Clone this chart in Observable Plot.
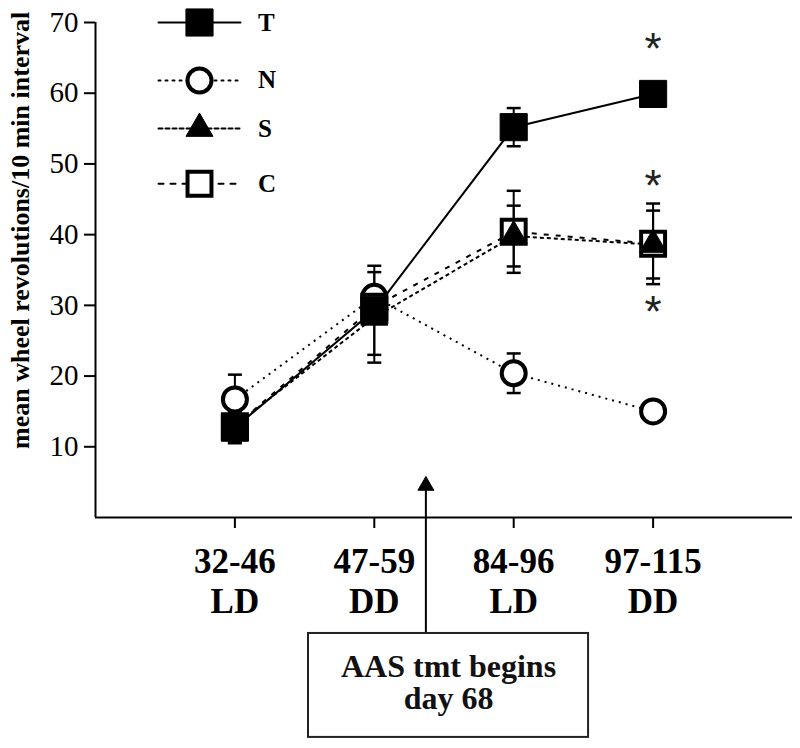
<!DOCTYPE html>
<html>
<head>
<meta charset="utf-8">
<script src="https://cdn.jsdelivr.net/npm/d3@7"></script>
<script src="https://cdn.jsdelivr.net/npm/@observablehq/plot@0.6"></script>
<style>
  html, body { margin: 0; padding: 0; background: #fff; }
  #chart svg { display: block; }
</style>
</head>
<body>
<div id="chart"></div>
<script>
// ---- data ----
const periodLabels = ["32-46\nLD", "47-59\nDD", "84-96\nLD", "97-115\nDD"];
const periodPos = [1, 2, 3, 4];
const seriesNames = ["T", "N", "S", "C"];
const T_mean = [12.7, 29.3, 55.2, 59.9];
const T_err  = [2.2, 6.3, 2.7, 0.8];
const N_mean = [16.7, 31.2, 20.4, 15.0];
const N_err  = [3.5, 1.5, 2.8, 0.8];
const S_mean = [13.0, 28.3, 39.8, 38.6];
const S_err  = [2.0, 6.4, 4.3, 4.8];
const C_mean = [12.9, 29.8, 40.4, 38.7];
const C_err  = [2.2, 1.5, 5.8, 5.7];
const yTicks = [10, 20, 30, 40, 50, 60, 70];
const asteriskY = [67.2, 47.9, 30.1];   // significance marks at 97-115
const yTitle = "mean wheel revolutions/10 min interval";
const noteLines = ["AAS tmt begins", "day 68"];
const notePos = 2.37; // position of treatment start between periods

// ---- build tables ----
const means = {T: T_mean, N: N_mean, S: S_mean, C: C_mean};
const errs = {T: T_err, N: N_err, S: S_err, C: C_err};
function rows(name) {
  return periodPos.map((x, i) => ({series: name, x, y: means[name][i],
    lo: means[name][i] - errs[name][i], hi: means[name][i] + errs[name][i]}));
}
const data = Object.fromEntries(seriesNames.map(n => [n, rows(n)]));

const serif = "'Liberation Serif', 'Times New Roman', serif";
const styles = {
  T: {dash: null},
  N: {dash: "2,5"},
  S: {dash: "4,3"},
  C: {dash: "5,7"}
};
const cap = {draw(ctx) { ctx.moveTo(-7, 0); ctx.lineTo(7, 0); }};

function markerMarks(d, name) {
  if (name === "T") return Plot.dot(d, {x: "x", y: "y", symbol: "square", r: 15.3, fill: "black", stroke: "black", strokeWidth: 1});
  if (name === "N") return Plot.dot(d, {x: "x", y: "y", symbol: "circle", r: 12, fill: "white", stroke: "black", strokeWidth: 4});
  if (name === "S") return Plot.dot(d, {x: "x", y: "y", symbol: "triangle", r: 10, fill: "black", stroke: "black", strokeWidth: 1});
  return Plot.dot(d, {x: "x", y: "y", symbol: "square", r: 13.5, fill: "white", stroke: "black", strokeWidth: 4});
}

// legend layout (in chart coordinates)
const legX = [0.452, 1.04], legMarkX = 0.746, legTextX = 1.165;
const legY = {T: 70, N: 61.8, S: 55.0, C: 47.2};
const legend = seriesNames.map(n => ({series: n, y: legY[n]}));

const marks = [];
// axes lines
marks.push(Plot.ruleY([0], {x1: 0, x2: 5, stroke: "black", strokeWidth: 2}));
marks.push(Plot.ruleX([0], {y1: 0, y2: 70, stroke: "black", strokeWidth: 2}));
marks.push(Plot.axisY({ticks: yTicks, tickSize: 11, tickPadding: 6, strokeWidth: 2,
  fontSize: 29, fontFamily: serif, style: "letter-spacing:-1.8px", fill: "black", label: null}));
marks.push(Plot.axisX({ticks: periodPos, tickFormat: (d) => periodLabels[periodPos.indexOf(d)],
  tickSize: 11, tickPadding: 16, strokeWidth: 2, fontSize: 35, fontWeight: "bold", fontFamily: serif,
  lineHeight: 1.15, style: "letter-spacing:-1.8px", fill: "black", label: null}));
// y title
marks.push(Plot.text([yTitle], {x: () => -0.54, y: () => 40.6, text: d => d, rotate: -90,
  fontSize: 26, fontWeight: "bold", fontFamily: serif, fill: "black", style: "letter-spacing:-1px"}));

// lines
const drawOrder = ["N", "C", "S", "T"];
for (const n of drawOrder) {
  marks.push(Plot.line(data[n], {x: "x", y: "y", stroke: "black", strokeWidth: 2,
    strokeDasharray: styles[n].dash, strokeLinecap: "butt"}));
}
// error bars
for (const n of drawOrder) {
  marks.push(Plot.ruleX(data[n], {x: "x", y1: "lo", y2: "hi", stroke: "black", strokeWidth: 2}));
  marks.push(Plot.dot(data[n], {x: "x", y: "lo", symbol: cap, stroke: "black", strokeWidth: 2.5}));
  marks.push(Plot.dot(data[n], {x: "x", y: "hi", symbol: cap, stroke: "black", strokeWidth: 2.5}));
}
// markers
for (const n of drawOrder) marks.push(markerMarks(data[n], n));

// asterisks
marks.push(Plot.text(asteriskY, {x: () => 4, y: d => d, text: () => "*", fontSize: 44,
  fontFamily: "'Liberation Sans', Arial, sans-serif", fill: "#222", dy: 8}));

// legend
for (const n of seriesNames) {
  const ly = legY[n];
  marks.push(Plot.line(legX.map(x => ({x, y: ly})), {x: "x", y: "y", stroke: "black", strokeWidth: 2,
    strokeDasharray: styles[n].dash}));
  marks.push(markerMarks([{x: legMarkX, y: ly}], n));
}
marks.push(Plot.text(legend, {x: () => legTextX, y: "y", text: "series", textAnchor: "start",
  fontSize: 25, fontWeight: "bold", fontFamily: serif, fill: "black"}));

// annotation box and arrow
const boxX = [1.528, 3.537], boxY = [-16.4, -31.1];
marks.push(Plot.ruleX([notePos], {y1: boxY[0], y2: 4.3, stroke: "black", strokeWidth: 2}));
marks.push(Plot.dot([notePos], {x: d => d, y: () => 4.5, symbol: "triangle", r: 5.9, fill: "black", stroke: "black", strokeWidth: 1}));
marks.push(Plot.rect([0], {x1: () => boxX[0], x2: () => boxX[1], y1: () => boxY[0], y2: () => boxY[1],
  fill: "white", stroke: "#222", strokeWidth: 2}));
marks.push(Plot.text([noteLines[0]], {x: () => (boxX[0] + boxX[1]) / 2, y: () => -22.5,
  text: d => d, fontSize: 32, fontWeight: "bold", fontFamily: serif, lineAnchor: "bottom",
  fill: "#111", style: "letter-spacing:-1px"}));
marks.push(Plot.text([noteLines[1]], {x: () => (boxX[0] + boxX[1]) / 2, y: () => -27.1,
  text: d => d, fontSize: 32, fontWeight: "bold", fontFamily: serif, lineAnchor: "bottom",
  fill: "#111", style: "letter-spacing:-1px"}));

const chart = Plot.plot({
  width: 800,
  height: 748,
  marginLeft: 95,
  marginRight: 8,
  marginTop: 22,
  marginBottom: 231,
  x: {domain: [0, 5], axis: null},
  y: {domain: [0, 70], axis: null},
  style: {background: "white", color: "black", overflow: "visible"},
  marks
});
document.getElementById("chart").appendChild(chart);
</script>
</body>
</html>
